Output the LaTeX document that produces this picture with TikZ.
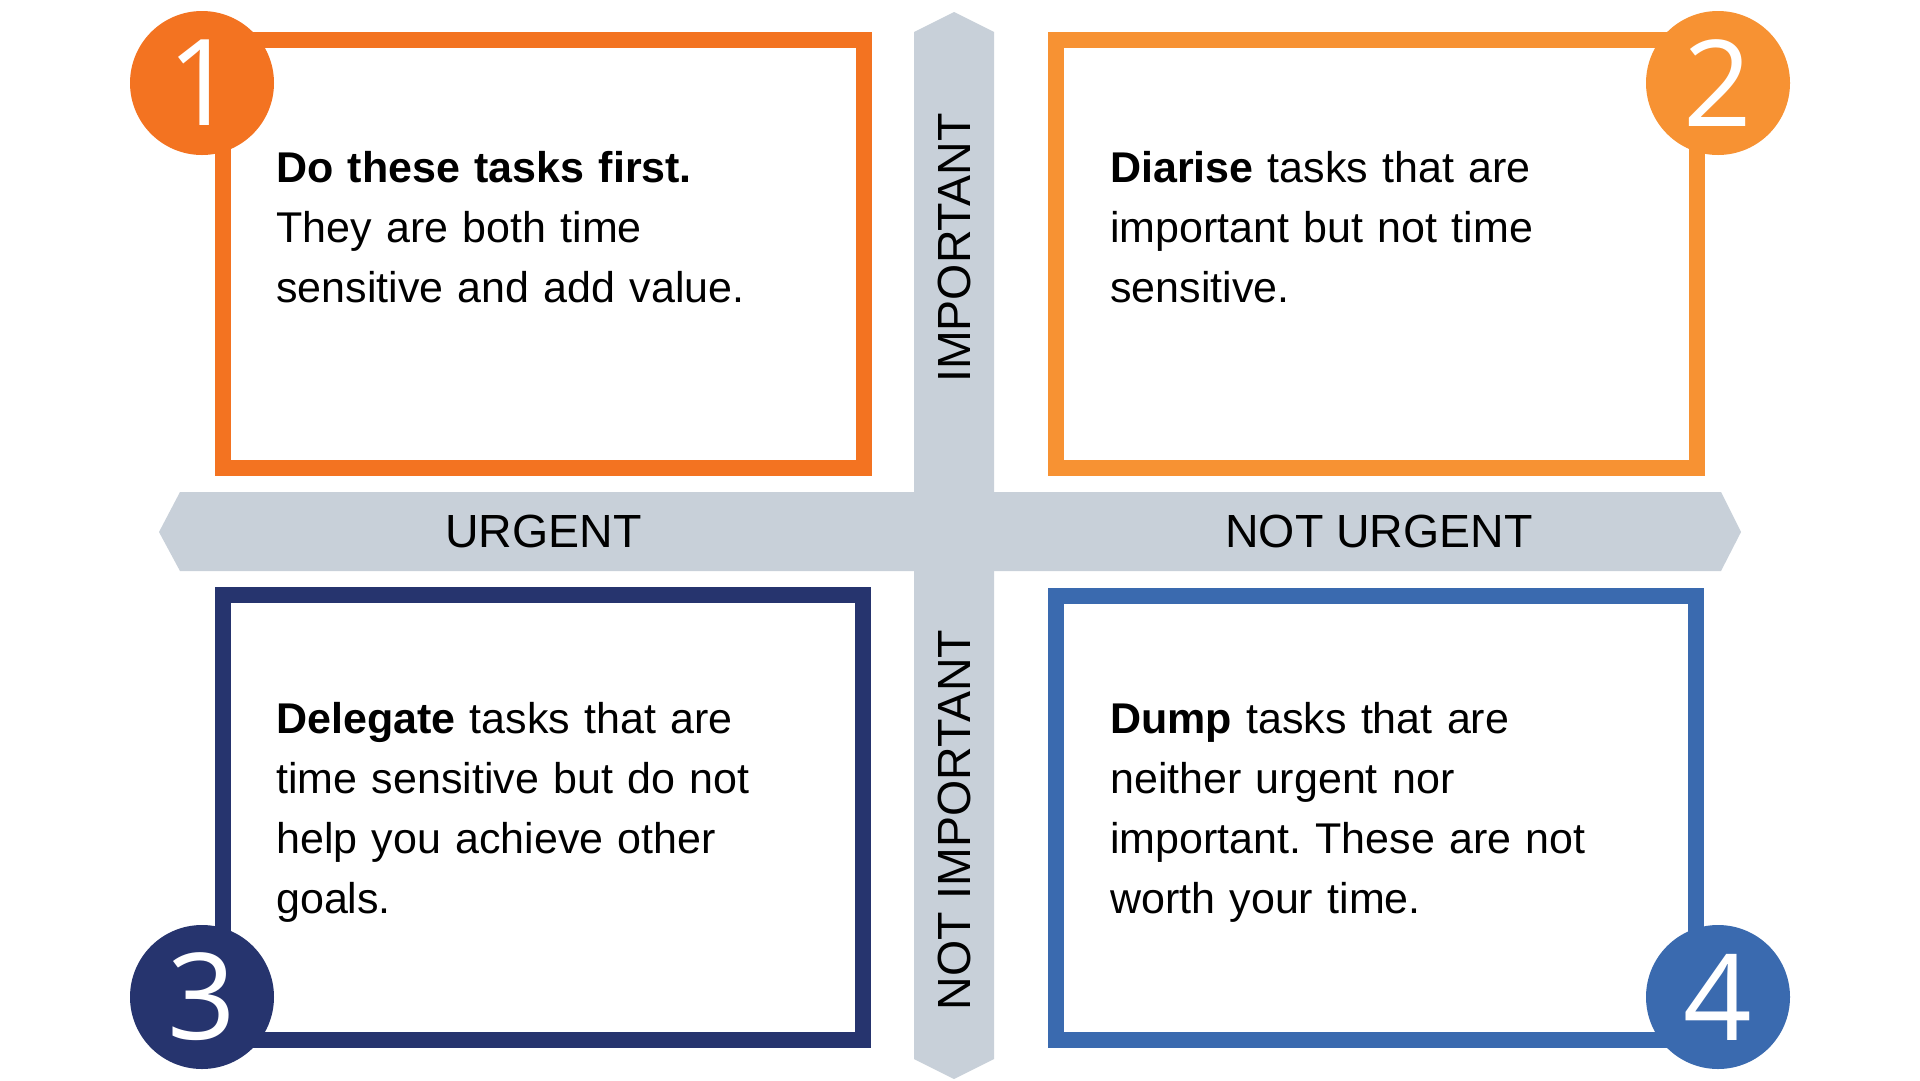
\documentclass[tikz,border=0pt]{standalone}
\usepackage{fontspec}
\setmainfont{Liberation Sans}
\newfontfamily\numfont{Open Sans}
\frenchspacing

\definecolor{qorange}{HTML}{F37321}
\definecolor{qamber}{HTML}{F79233}
\definecolor{qnavy}{HTML}{26346E}
\definecolor{qblue}{HTML}{3A6AAF}
\definecolor{qgrey}{HTML}{C8D0D9}

\tikzset{
  qbox/.style={line width=15.5pt},
  qnum/.style={circle, minimum size=144pt, inner sep=0pt, text=white,
    font=\numfont\fontsize{120}{120}\selectfont},
  qtext/.style={anchor=base west, align=left, inner sep=0pt, text width=600pt,
    font=\fontsize{43}{60}\selectfont},
  qlabel/.style={inner sep=0pt, font=\fontsize{46.5}{46.5}\selectfont}
}

\begin{document}
\begin{tikzpicture}[x=1pt, y=-1pt]

% 1. Page with the margins of the picture
\fill[white] (0,0) rectangle (1920,1080);
\useasboundingbox (0,0) rectangle (1920,1080);

% 2. The two grey axis bars with pointed ends
\fill[qgrey] (914,32) -- (954,12) -- (994,32) -- (994,1059) -- (954,1079) -- (914,1059) -- cycle;
\fill[qgrey] (180,492) -- (1721,492) -- (1741,532) -- (1721,571) -- (180,571) -- (159,532) -- cycle;

% 3. The four quadrant frames
\draw[qbox, qorange] (223,40) rectangle (864,468);
\draw[qbox, qamber] (1056,40) rectangle (1697,468);
\draw[qbox, qnavy] (223,595) rectangle (863,1040);
\draw[qbox, qblue] (1056,596) rectangle (1696,1040);

% 4. Numbered discs on the outer corners
\node[qnum, fill=qorange] (n1) at (202,83) {1};
\node[qnum, fill=qamber] (n2) at (1718,83) {2};
\node[qnum, fill=qnavy] (n3) at (202,997) {3};
\node[qnum, fill=qblue] (n4) at (1718,997) {4};

% 5. Axis labels
\node[qlabel] (urgent) at (543.5,531.5) {URGENT};
\node[qlabel] (noturgent) at (1379,531.5) {NOT URGENT};
\node[qlabel, rotate=90] (important) at (954,248) {IMPORTANT};
\node[qlabel, rotate=90] (notimportant) at (954,820) {NOT IMPORTANT};

% 6. Quadrant texts
\node[qtext] (t1) at (276,182) {\textbf{Do these tasks first.}\\They are both time\\sensitive and add value.};
\node[qtext] (t2) at (1110,182) {\textbf{Diarise} tasks that are\\important but not time\\sensitive.};
\node[qtext] (t3) at (276,733) {\textbf{Delegate} tasks that are\\time sensitive but do not\\help you achieve other\\goals.};
\node[qtext] (t4) at (1110,733) {\textbf{Dump} tasks that are\\neither urgent nor\\important. These are not\\worth your time.};

\end{tikzpicture}
\end{document}
